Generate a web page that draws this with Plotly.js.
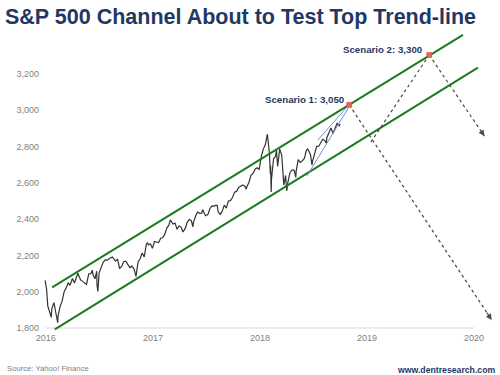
<!DOCTYPE html>
<html>
<head>
<meta charset="utf-8">
<script src="https://cdn.plot.ly/plotly-3.0.1.min.js"></script>
<style>html,body{margin:0;padding:0;background:#fff;}#chart{width:500px;height:375px;}</style>
</head>
<body>
<div id="chart"></div>
<script>
// S&P 500 closes (approx.)
var spDates = [
"2015-12-30","2016-01-04","2016-01-08","2016-01-13","2016-01-15","2016-01-20","2016-01-22","2016-01-29","2016-02-05","2016-02-11","2016-02-12","2016-02-19","2016-02-26","2016-03-04","2016-03-11","2016-03-18","2016-03-24","2016-04-01","2016-04-08","2016-04-15","2016-04-20","2016-04-22","2016-04-29","2016-05-06","2016-05-13","2016-05-19","2016-05-27","2016-06-03","2016-06-08","2016-06-10","2016-06-17","2016-06-23","2016-06-24","2016-06-27","2016-07-01","2016-07-08","2016-07-15","2016-07-22","2016-07-29","2016-08-05","2016-08-15","2016-08-19","2016-08-26","2016-09-02","2016-09-09","2016-09-16","2016-09-23","2016-09-30","2016-10-07","2016-10-14","2016-10-21","2016-10-28","2016-11-04","2016-11-11","2016-11-18","2016-11-25","2016-12-02","2016-12-09","2016-12-13","2016-12-16","2016-12-23","2016-12-30",
"2017-01-06","2017-01-13","2017-01-20","2017-01-27","2017-02-03","2017-02-10","2017-02-17","2017-02-24","2017-03-01","2017-03-10","2017-03-17","2017-03-24","2017-03-31","2017-04-07","2017-04-13","2017-04-21","2017-04-28","2017-05-05","2017-05-12","2017-05-17","2017-05-19","2017-05-26","2017-06-02","2017-06-09","2017-06-16","2017-06-19","2017-06-23","2017-06-29","2017-07-07","2017-07-14","2017-07-21","2017-07-28","2017-08-04","2017-08-08","2017-08-11","2017-08-18","2017-08-25","2017-09-01","2017-09-08","2017-09-15","2017-09-22","2017-09-29","2017-10-06","2017-10-13","2017-10-20","2017-10-27","2017-11-03","2017-11-10","2017-11-15","2017-11-17","2017-11-24","2017-12-01","2017-12-08","2017-12-15","2017-12-22","2017-12-29",
"2018-01-05","2018-01-12","2018-01-19","2018-01-26","2018-02-02","2018-02-05","2018-02-06","2018-02-08","2018-02-09","2018-02-16","2018-02-23","2018-02-26","2018-03-02","2018-03-09","2018-03-16","2018-03-23","2018-03-29","2018-04-02","2018-04-06","2018-04-13","2018-04-20","2018-04-27","2018-05-03","2018-05-04","2018-05-11","2018-05-18","2018-05-25","2018-06-01","2018-06-08","2018-06-12","2018-06-15","2018-06-22","2018-06-27","2018-06-29","2018-07-06","2018-07-13","2018-07-20","2018-07-27","2018-08-03","2018-08-10","2018-08-15","2018-08-17","2018-08-24","2018-08-31","2018-09-07","2018-09-14","2018-09-21","2018-09-28","2018-10-01"
];
var spValues = [
2063,2013,1922,1890,1880,1859,1907,1940,1880,1829,1865,1918,1948,2000,2022,2050,2035,2073,2048,2081,2102,2092,2065,2057,2047,2040,2099,2099,2119,2096,2071,2113,2037,2001,2103,2130,2162,2175,2174,2183,2191,2184,2169,2180,2128,2139,2165,2168,2153,2133,2141,2126,2085,2164,2182,2213,2192,2259,2271,2258,2264,2239,
2277,2275,2271,2295,2297,2316,2351,2367,2396,2373,2378,2344,2363,2355,2329,2349,2384,2399,2391,2357,2382,2416,2439,2432,2433,2453,2438,2419,2425,2459,2473,2472,2477,2475,2441,2426,2443,2477,2461,2500,2502,2519,2549,2553,2575,2581,2588,2582,2565,2579,2602,2642,2652,2675,2683,2674,
2743,2786,2810,2868,2762,2649,2695,2550,2620,2732,2747,2780,2691,2786,2752,2588,2641,2555,2604,2656,2670,2670,2630,2663,2728,2713,2721,2735,2779,2787,2780,2755,2699,2718,2760,2801,2802,2819,2840,2833,2818,2850,2875,2902,2872,2905,2930,2914,2924
];

// Channel trend-lines
var topLineX = ["2016-01-23","2019-11-24"];
var topLineY = [2024,3416];
var botLineX = ["2016-02-01","2020-01-14"];
var botLineY = [1793,3235];

// Rising wedge (blue)
var wedgeLowX = ["2018-06-10","2018-10-31"];
var wedgeLowY = [2638,3018];
var wedgeUpX = ["2018-07-17","2018-10-28"];
var wedgeUpY = [2836,3024];

// Scenarios
var scenX = ["2018-11-01","2019-08-01"];
var scenY = [3030,3305];
var scenLabels = ["Scenario 1: 3,050","Scenario 2: 3,300"];

// Dashed projection paths
var pathAX = ["2018-11-01","2020-03-01"];
var pathAY = [3030,1844];
var pathBX = ["2019-01-14","2019-08-01"];
var pathBY = [2825,3305];
var pathCX = ["2019-08-01","2020-02-05"];
var pathCY = [3305,2858];

// Axis ticks
var yTicks = [1800,2000,2200,2400,2600,2800,3000,3200];
var xTickVals = ["2016-01-01","2017-01-01","2018-01-01","2019-01-01","2020-01-01"];
var xTickText = ["2016","2017","2018","2019","2020"];

var FONT = "Liberation Sans, Arial, sans-serif";
var NAVY = "#1f3864";
var GREEN = "#1c7a1c";
var DASH = "#4a4a4a";

function toMs(s){ return new Date(s.replace(" ","T")+(s.length===10?"T00:00:00Z":"Z")).getTime(); }
function toStr(ms){ return new Date(ms).toISOString().slice(0,16).replace("T"," "); }
function arrowHead(xs, ys){
  var x0 = toMs(xs[0]), x1 = toMs(xs[1]);
  var f = 0.04;
  return {
    x: xs[1], y: ys[1], xref:"x", yref:"y",
    ax: toStr(x1 - f*(x1-x0)), ay: ys[1] - f*(ys[1]-ys[0]),
    axref:"x", ayref:"y", text:"", showarrow:true,
    arrowhead:2, arrowsize:1, arrowwidth:1.2, arrowcolor:DASH, standoff:0
  };
}

var traces = [
  {x:spDates, y:spValues, type:"scatter", mode:"lines", line:{color:"#333333", width:1.2}, hoverinfo:"skip"},
  {x:topLineX, y:topLineY, type:"scatter", mode:"lines", line:{color:GREEN, width:2}},
  {x:botLineX, y:botLineY, type:"scatter", mode:"lines", line:{color:GREEN, width:2}},
  {x:wedgeLowX, y:wedgeLowY, type:"scatter", mode:"lines", line:{color:"#6f8fcf", width:1}},
  {x:wedgeUpX, y:wedgeUpY, type:"scatter", mode:"lines", line:{color:"#6f8fcf", width:1}},
  {x:pathAX, y:pathAY, type:"scatter", mode:"lines", line:{color:DASH, width:1.2, dash:"3px,3px"}},
  {x:pathBX, y:pathBY, type:"scatter", mode:"lines", line:{color:DASH, width:1.2, dash:"3px,3px"}},
  {x:pathCX, y:pathCY, type:"scatter", mode:"lines", line:{color:DASH, width:1.2, dash:"3px,3px"}},
  {x:scenX, y:scenY, type:"scatter", mode:"markers", marker:{symbol:"square", size:5, color:"#e06a55", line:{color:"#c04a36", width:0.5}}}
];

var plotH = 375-30-44, plotW = 500-44-4;
var annotations = [
  arrowHead(pathAX, pathAY),
  arrowHead(pathCX, pathCY),
  {x:scenX[0], y:scenY[0], xref:"x", yref:"y", text:scenLabels[0], showarrow:false, xanchor:"right", yanchor:"middle", xshift:-3, yshift:5, font:{family:FONT, size:9.7, color:NAVY, weight:"bold"}},
  {x:scenX[1], y:scenY[1], xref:"x", yref:"y", text:scenLabels[1], showarrow:false, xanchor:"right", yanchor:"middle", xshift:-5, yshift:5, font:{family:FONT, size:9.7, color:NAVY, weight:"bold"}},
  {x:(5-44)/plotW, y:(331-368)/plotH, xref:"paper", yref:"paper", text:"Source: Yahoo! Finance", showarrow:false, xanchor:"left", yanchor:"middle", font:{family:FONT, size:7.7, color:"#7f7f7f"}},
  {x:(497-44)/plotW, y:(331-370)/plotH, xref:"paper", yref:"paper", text:"www.dentresearch.com", showarrow:false, xanchor:"right", yanchor:"middle", font:{family:FONT, size:8.7, color:NAVY, weight:"bold"}}
];

var layout = {
  width:500, height:375,
  margin:{l:44, r:4, t:30, b:44},
  paper_bgcolor:"#fff", plot_bgcolor:"#fff",
  showlegend:false,
  font:{family:FONT},
  title:{text:"S&P 500 Channel About to Test Top Trend-line", xref:"container", yref:"container", x:5/500, xanchor:"left", y:1-16.5/375, yanchor:"middle", font:{family:FONT, size:21.5, color:NAVY, weight:"bold"}},
  xaxis:{type:"date", range:["2015-12-26 05:00","2020-03-15 15:00"], tickvals:xTickVals, ticktext:xTickText, showgrid:false, zeroline:false, showline:false, ticks:"", tickfont:{family:FONT, size:9, color:"#7f7f7f"}, fixedrange:true},
  yaxis:{range:[1783.5,3442.5], tickvals:yTicks, tickformat:",d", showgrid:false, zeroline:false, showline:false, ticks:"", ticklabelstandoff:4, tickfont:{family:FONT, size:9, color:"#7f7f7f"}, fixedrange:true},
  shapes:[{type:"line", xref:"x", yref:"y", x0:xTickVals[0], x1:xTickVals[4], y0:yTicks[0], y1:yTicks[0], line:{color:"#d9d9d9", width:1}, layer:"below"}],
  annotations:annotations
};

Plotly.newPlot("chart", traces, layout, {displayModeBar:false, staticPlot:true});
</script>
</body>
</html>
